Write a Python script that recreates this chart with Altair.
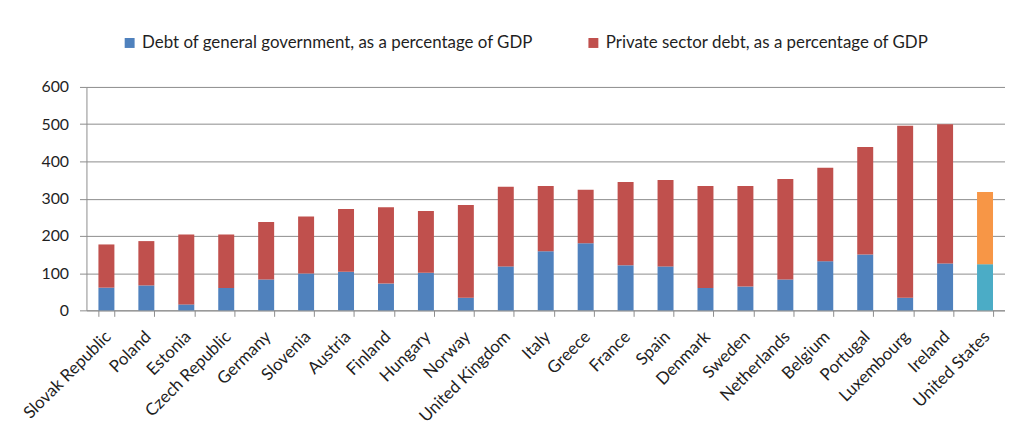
import altair as alt
import pandas as pd

countries = ["Slovak Republic", "Poland", "Estonia", "Czech Republic", "Germany", "Slovenia",
             "Austria", "Finland", "Hungary", "Norway", "United Kingdom", "Italy", "Greece",
             "France", "Spain", "Denmark", "Sweden", "Netherlands", "Belgium", "Portugal",
             "Luxembourg", "Ireland", "United States"]
gov = [61, 67, 16, 60, 83, 99, 104, 72, 101, 34, 118, 159, 180, 121, 118, 60, 64, 83, 132, 150, 34, 126, 124]
private = [116, 119, 188, 144, 154, 153, 168, 205, 166, 249, 214, 175, 144, 224, 232, 274, 270, 270, 251, 289, 462, 374, 194]
y_ticks = [0, 100, 200, 300, 400, 500, 600]

GOV = "Debt of general government, as a percentage of GDP"
PRIV = "Private sector debt, as a percentage of GDP"
US_GOV = "United States government debt"
US_PRIV = "United States private debt"

rows = []
for c, g, p in zip(countries, gov, private):
    us = c == "United States"
    rows.append({"country": c, "series": US_GOV if us else GOV, "value": g, "ord": 0})
    rows.append({"country": c, "series": US_PRIV if us else PRIV, "value": p, "ord": 1})
df = pd.DataFrame(rows)

FONT = "Lato"
TXT = "#1f1f1f"
GRID = "#8c8c8c"

chart = alt.Chart(df).mark_bar().encode(
    x=alt.X("country:N", sort=countries, title=None,
            scale=alt.Scale(paddingInner=0.6, paddingOuter=0.3),
            axis=alt.Axis(labelAngle=-45, tickBand="extent", labelFontSize=17, labelFont=FONT,
                          labelColor=TXT, domainColor=GRID, tickColor=GRID, tickSize=6,
                          labelPadding=12, labelOffset=-4, grid=False, labelLimit=300)),
    y=alt.Y("value:Q", stack="zero", title=None,
            scale=alt.Scale(domain=[0, 600], nice=False),
            axis=alt.Axis(values=y_ticks, labelFontSize=16, labelFont=FONT, labelColor=TXT,
                          domainColor=GRID, tickColor=GRID, tickSize=7, labelPadding=11,
                          gridColor=GRID, gridWidth=1)),
    color=alt.Color("series:N",
                    scale=alt.Scale(domain=[GOV, PRIV, US_GOV, US_PRIV],
                                    range=["#4F81BD", "#C0504D", "#4BACC6", "#F79646"]),
                    legend=alt.Legend(values=[GOV, PRIV], orient="none", legendX=35, legendY=-53,
                                      direction="horizontal", title=None, symbolType="square",
                                      symbolSize=100, symbolStrokeWidth=0, labelFontSize=17,
                                      labelFont=FONT, labelColor=TXT, labelOffset=4,
                                      columnPadding=52, labelLimit=600)),
    order=alt.Order("ord:Q", sort="ascending"),
).properties(
    width=925, height=225,
    autosize=alt.AutoSizeParams(type="none"),
    padding={"left": 79, "top": 78, "right": 0, "bottom": 120},
).configure_view(stroke=None)

chart.save("out.html", embed_options={"renderer": "svg", "actions": False})
